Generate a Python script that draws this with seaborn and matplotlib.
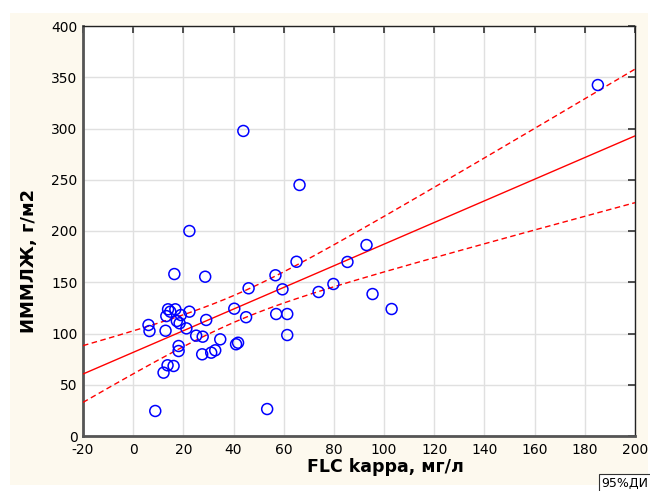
import numpy as np
import pandas as pd
import matplotlib
matplotlib.use("Agg")
import matplotlib.pyplot as plt
from matplotlib.patches import Rectangle
import seaborn as sns

flc_kappa = [185.2, 43.9, 66.3, 22.4, 93.0, 16.4, 28.7, 56.7, 65.1, 85.4,
             46.0, 59.5, 73.9, 79.8, 95.4, 103.0, 13.9, 16.8, 14.8, 13.2,
             19.0, 22.4, 40.3, 29.1, 17.4, 18.5, 45.0, 57.0, 61.4, 6.1,
             6.5, 12.9, 21.2, 25.1, 27.7, 34.7, 41.0, 41.8, 61.4, 18.1,
             18.1, 27.5, 31.1, 32.7, 13.7, 16.1, 12.1, 8.8, 53.4]
immlzh = [342.4, 297.6, 244.9, 200.0, 186.3, 158.0, 155.4, 156.8, 170.0, 169.8,
          144.1, 143.1, 140.5, 148.3, 138.5, 123.9, 123.6, 123.6, 121.3, 117.0,
          118.0, 121.3, 124.2, 113.2, 112.2, 110.0, 115.9, 119.0, 119.0, 108.3,
          102.4, 102.7, 105.0, 97.9, 96.9, 94.3, 89.5, 91.0, 98.5, 87.8,
          82.9, 79.7, 81.3, 83.6, 69.0, 68.3, 61.8, 24.4, 26.3]
x_ticks = list(range(-20, 201, 20))
y_ticks = list(range(0, 401, 50))
x_label = "FLC kappa, мг/л"
y_label = "ИММЛЖ, г/м2"
ci_label = "95%ДИ"
t_crit = 2.012  # t(0.975, n-2)

df = pd.DataFrame({"x": flc_kappa, "y": immlzh})

# OLS fit with confidence band for the mean
x = df["x"].to_numpy(); y = df["y"].to_numpy()
n = len(x)
b1, b0 = np.polyfit(x, y, 1)
resid = y - (b0 + b1 * x)
s = np.sqrt(np.sum(resid ** 2) / (n - 2))
xbar = x.mean(); sxx = np.sum((x - xbar) ** 2)
xg = np.linspace(x_ticks[0], x_ticks[-1], 200)
yg = b0 + b1 * xg
half = t_crit * s * np.sqrt(1.0 / n + (xg - xbar) ** 2 / sxx)
fit = pd.DataFrame({"x": xg, "fit": yg, "lo": yg - half, "hi": yg + half})

sns.set_style("white")
plt.rcParams["font.family"] = ["DejaVu Sans"]
plt.rcParams["axes.unicode_minus"] = False

fig = plt.figure(figsize=(6.5, 4.91), dpi=100)
fig.patch.set_facecolor("white")
fig.patches.append(Rectangle((10 / 650, 1 - 485 / 491), 638 / 650, 472 / 491,
                             transform=fig.transFigure, facecolor="#fdf9ee",
                             edgecolor="none", zorder=-10))
ax = fig.add_axes([83 / 650, 1 - 436 / 491, 552 / 650, 410 / 491])
ax.set_facecolor("white")

sns.lineplot(data=fit, x="x", y="fit", ax=ax, color="#ff0000", lw=1.0, zorder=3)
sns.lineplot(data=fit, x="x", y="lo", ax=ax, color="#ff0000", lw=1.0,
             zorder=3).lines[-1].set_dashes([4, 2.5])
sns.lineplot(data=fit, x="x", y="hi", ax=ax, color="#ff0000", lw=1.0,
             zorder=3).lines[-1].set_dashes([4, 2.5])
sns.scatterplot(data=df, x="x", y="y", ax=ax, s=62, facecolor="none",
                edgecolor="#0000ff", linewidth=1.1, zorder=4)

ax.set_xlim(x_ticks[0], x_ticks[-1])
ax.set_ylim(y_ticks[0], y_ticks[-1])
ax.set_xticks(x_ticks)
ax.set_yticks(y_ticks)
ax.grid(True, color="#e0e0e0", lw=1.0, zorder=0)
ax.set_axisbelow(True)
ax.tick_params(axis="both", direction="in", length=5, width=1.2, color="#333333",
               labelsize=10, labelcolor="black", top=True, right=True)
ax.tick_params(axis="y", pad=4)
ax.tick_params(axis="x", pad=5)
for side in ["top", "right"]:
    ax.spines[side].set_color("#222222"); ax.spines[side].set_linewidth(1.0)
for side in ["left", "bottom"]:
    ax.spines[side].set_color("#555555"); ax.spines[side].set_linewidth(2.0)

ax.set_xlabel(x_label, fontsize=12.5, fontweight="bold", color="black")
ax.set_ylabel(y_label, fontsize=13, fontweight="bold", color="black")
ax.xaxis.set_label_coords((385 - 83) / 552, -(467 - 436) / 410)
ax.yaxis.set_label_coords(-(83 - 29) / 552, (436 - 261) / 410)
ax.xaxis.label.set_va("center")
ax.yaxis.label.set_va("center")

fig.text(601 / 650, 1 - 483 / 491, ci_label, fontsize=9, ha="left", va="center",
         color="black",
         bbox=dict(boxstyle="square,pad=0.2", facecolor="white",
                   edgecolor="#333333", lw=0.8))

fig.savefig("out.png", dpi=100, facecolor=fig.get_facecolor())
